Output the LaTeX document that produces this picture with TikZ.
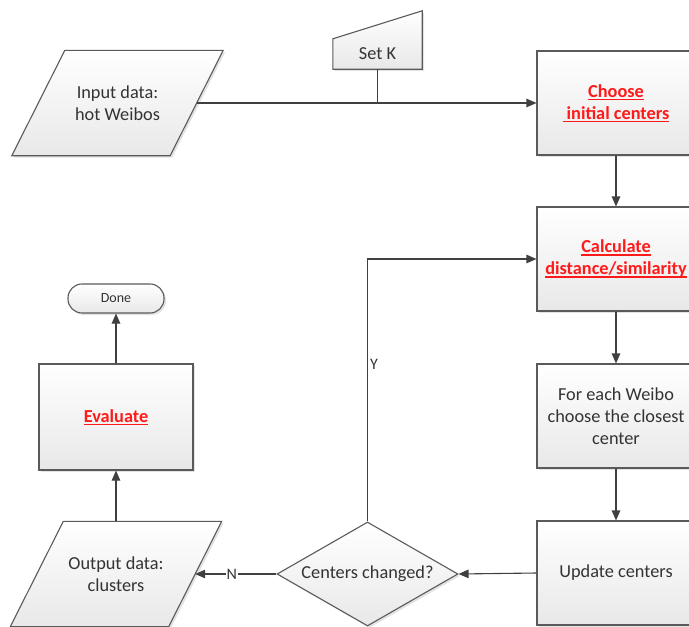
\documentclass[tikz,border=0pt]{standalone}
\usepackage{fontspec}
\setmainfont{Carlito}
\usetikzlibrary{shapes.geometric,arrows.meta,shadows,calc,backgrounds}
\definecolor{edgec}{HTML}{5A5A5A}
\definecolor{linec}{HTML}{404040}
\definecolor{txtc}{HTML}{333333}
\definecolor{redt}{HTML}{FF1A1A}
\newcommand\redul[1]{\setbox0\hbox{#1}\rlap{\rule[-2.6pt]{\wd0}{1.2pt}}\box0}
\tikzset{
  basebox/.style={draw=edgec, line width=1.1pt, top color=white, bottom color=black!9,
    text=txtc, font=\fontsize{18.3}{22}\selectfont, align=center, inner sep=0pt,
    drop shadow={opacity=0.22, shadow xshift=2pt, shadow yshift=-2pt}},
  procbox/.style={basebox, rectangle, minimum width=158pt, minimum height=104pt},
  iocore/.style={inner sep=0pt, text=txtc, font=\fontsize{18.3}{22}\selectfont,
    align=center, minimum width=158pt, minimum height=105pt},
  termbox/.style={basebox, rectangle, rounded corners=14pt, minimum width=96pt,
    minimum height=29pt, font=\fontsize{14}{16}\selectfont},
  decbox/.style={basebox, diamond, minimum width=181pt, minimum height=104pt},
  conn/.style={draw=linec, line width=1.1pt},
  arrowc/.style={conn, -{Triangle[length=10pt,width=8.5pt]}},
  lab/.style={text=txtc, font=\fontsize{16}{18}\selectfont, inner sep=1pt},
  redtxt/.style={font=\fontsize{18.3}{22}\selectfont\bfseries, text=redt}
}
\begin{document}
\begin{tikzpicture}[x=1pt,y=-1pt]
\useasboundingbox (0,0) rectangle (689,627);
% nodes
\node[iocore] (in) at (117.5,103) {Input data:\\hot Weibos};
\node[iocore] (out) at (116,574) {Output data:\\clusters};
\node[inner sep=0pt, minimum width=89pt, minimum height=30pt, text=txtc,
      font=\fontsize{18.3}{22}\selectfont] (setk) at (377.5,54) {Set K};
\begin{scope}[on background layer]
\path[basebox] (setk.south west) -- (setk.south east) -- ($(setk.north east)+(0,-28)$)
   -- (setk.north west) -- cycle;
\foreach \n in {in,out}{
  \path[basebox] ($(\n.south west)+(-26.5,0)$) -- ($(\n.south east)+(-26.5,0)$)
     -- ($(\n.north east)+(26.5,0)$) -- ($(\n.north west)+(26.5,0)$) -- cycle;
}
\end{scope}
\coordinate (j) at (377.5,103);
\node[procbox, redtxt] (choose) at (616,103) {\redul{Choose}\\\redul{\kern4pt initial centers}};
\node[procbox, redtxt] (calc) at (616,259) {\redul{Calculate}\\\redul{distance/similarity}};
\node[procbox] (fe) at (616,416) {For each Weibo\\choose the closest\\center};
\node[procbox] (upd) at (616,573) {Update centers};
\node[decbox] (dec) at (367.5,574) {\makebox[0pt]{Centers changed?}};
\node[procbox, redtxt, minimum width=154pt, minimum height=106pt] (eval) at (116,417) {\redul{Evaluate}};
\node[termbox] (done) at (116,298.5) {Done};
% connectors
\draw[conn] (setk) -- (j);
\draw[arrowc] (in) -- (choose);
\draw[arrowc] (choose) -- (calc);
\draw[arrowc] (calc) -- (fe);
\draw[arrowc] (fe) -- (upd);
\draw[arrowc] (upd.west) -- (dec.east);
\draw[arrowc] (dec.west) -- node[lab, pos=0.55, fill=white] (nlab) {N} (out.east);
\draw[arrowc] (dec.north) |- node[lab, pos=0.3, anchor=west, xshift=1pt] (ylab) {Y} (calc.west);
\draw[arrowc] (out.north) -- (eval.south);
\draw[arrowc] (eval) -- (done);
\end{tikzpicture}
\end{document}
